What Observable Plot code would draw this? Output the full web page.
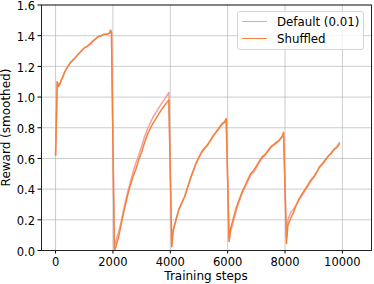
<!DOCTYPE html>
<html>
<head>
<meta charset="utf-8">
<script src="https://cdn.jsdelivr.net/npm/d3@7"></script>
<script src="https://cdn.jsdelivr.net/npm/@observablehq/plot@0.6"></script>
<style>
  html, body { margin: 0; padding: 0; background: #fff; }
  #wrap { position: relative; width: 374px; height: 284px; font-family: "DejaVu Sans", sans-serif; }
  #legend { position: absolute; left: 237px; top: 10.5px; width: 127px; height: 39px;
    border: 1px solid #d6d6d6; border-radius: 3px; background: rgba(255,255,255,0.8);
    font-size: 11.8px; color: #000; box-sizing: border-box; }
  .row { position: absolute; left: 4px; height: 14px; display: flex; align-items: center; }
  .sw { width: 25px; height: 0; margin-right: 10px; }
</style>
</head>
<body>
<div id="wrap"></div>
<script>
const seriesNames = ["Default (0.01)", "Shuffled"];
const seriesColors = ["#f5a0a2", "#f5823a"];

const steps = [
  0, 60, 100, 150, 200, 250, 300, 350, 400, 450, 500, 600, 700, 800, 900, 1000,
  1100, 1200, 1300, 1400, 1500, 1600, 1700, 1800, 1880, 1920, 1950,
  2050, 2100, 2200, 2300, 2400, 2500, 2600, 2700, 2800, 2900, 3000, 3100, 3200,
  3300, 3400, 3500, 3600, 3700, 3800, 3900, 3950,
  4050, 4100, 4200, 4300, 4400, 4500, 4600, 4700, 4800, 4900, 5000, 5100, 5200,
  5300, 5400, 5500, 5600, 5700, 5800, 5900, 5950,
  6050, 6100, 6200, 6300, 6400, 6500, 6600, 6700, 6800, 6900, 7000, 7100, 7200,
  7300, 7400, 7500, 7600, 7700, 7800, 7900, 7950,
  8050, 8100, 8200, 8300, 8400, 8500, 8600, 8700, 8800, 8900, 9000, 9100, 9200,
  9300, 9400, 9500, 9600, 9700, 9800, 9900
];

const shuffled = [
  0.62, 1.10, 1.07, 1.085, 1.11, 1.13, 1.155, 1.175, 1.19, 1.205, 1.22, 1.24, 1.26, 1.28, 1.30, 1.32,
  1.33, 1.345, 1.365, 1.38, 1.395, 1.40, 1.41, 1.41, 1.415, 1.435, 1.42,
  0.0, 0.02, 0.09, 0.18, 0.27, 0.35, 0.42, 0.48, 0.53, 0.59, 0.64, 0.70, 0.755,
  0.795, 0.83, 0.86, 0.89, 0.92, 0.945, 0.97, 0.98,
  0.025, 0.13, 0.20, 0.27, 0.31, 0.35, 0.41, 0.47, 0.52, 0.57, 0.61, 0.645, 0.67,
  0.69, 0.72, 0.75, 0.775, 0.80, 0.825, 0.84, 0.86,
  0.06, 0.14, 0.21, 0.28, 0.33, 0.38, 0.42, 0.46, 0.50, 0.52, 0.55, 0.58, 0.61,
  0.625, 0.65, 0.675, 0.69, 0.705, 0.72, 0.745, 0.77,
  0.045, 0.165, 0.21, 0.25, 0.30, 0.34, 0.37, 0.40, 0.43, 0.46, 0.48, 0.51, 0.545,
  0.565, 0.59, 0.615, 0.63, 0.655, 0.67, 0.695
];

const defaultRun = [
  0.62, 1.10, 1.07, 1.085, 1.11, 1.13, 1.155, 1.175, 1.19, 1.205, 1.22, 1.24, 1.26, 1.28, 1.30, 1.32,
  1.33, 1.345, 1.365, 1.38, 1.395, 1.40, 1.41, 1.41, 1.415, 1.435, 1.42,
  0.02, 0.06, 0.12, 0.20, 0.29, 0.37, 0.44, 0.51, 0.57, 0.62, 0.68, 0.74, 0.79,
  0.83, 0.87, 0.90, 0.93, 0.96, 0.985, 1.015, 1.03,
  0.03, 0.13, 0.20, 0.265, 0.31, 0.35, 0.405, 0.465, 0.515, 0.565, 0.605, 0.64, 0.665,
  0.685, 0.715, 0.745, 0.77, 0.795, 0.82, 0.835, 0.855,
  0.06, 0.12, 0.19, 0.26, 0.32, 0.37, 0.41, 0.45, 0.49, 0.51, 0.54, 0.575, 0.60,
  0.62, 0.645, 0.67, 0.685, 0.70, 0.715, 0.74, 0.765,
  0.08, 0.20, 0.25, 0.27, 0.30, 0.335, 0.36, 0.39, 0.42, 0.45, 0.475, 0.505, 0.54,
  0.56, 0.585, 0.61, 0.635, 0.66, 0.675, 0.705
];

const xTicks = [0, 2000, 4000, 6000, 8000, 10000];
const yTicks = [0, 0.2, 0.4, 0.6, 0.8, 1.0, 1.2, 1.4, 1.6];

const rows = [];
steps.forEach((s, i) => {
  rows.push({step: s, value: defaultRun[i], series: seriesNames[0]});
  rows.push({step: s, value: shuffled[i], series: seriesNames[1]});
});

const chart = Plot.plot({
  width: 374,
  height: 284,
  marginLeft: 41,
  marginRight: 3,
  marginTop: 4.5,
  marginBottom: 34,
  style: {fontFamily: "DejaVu Sans", fontSize: "11.5px", background: "white", color: "#000"},
  x: {domain: [-490, 11015], label: null},
  y: {domain: [0, 1.6], label: null},
  color: {domain: seriesNames, range: seriesColors},
  marks: [
    Plot.gridX(xTicks, {stroke: "#b0b0b0", strokeOpacity: 0.65, strokeWidth: 1}),
    Plot.gridY(yTicks, {stroke: "#b0b0b0", strokeOpacity: 0.65, strokeWidth: 1}),
    Plot.lineY(rows.filter(d => d.series === seriesNames[0]), {x: "step", y: "value", stroke: "series", strokeWidth: 1.5}),
    Plot.lineY(rows.filter(d => d.series === seriesNames[1]), {x: "step", y: "value", stroke: "series", strokeWidth: 1.5}),
    Plot.axisX(xTicks, {tickSize: 3.5, tickPadding: 4, tickFormat: d3.format("d"), label: null, stroke: "#000"}),
    Plot.axisY(yTicks, {tickSize: 3.5, tickFormat: () => "", label: null, stroke: "#000"}),
    Plot.axisY(yTicks, {tickSize: 0, tickPadding: 6.5, dy: 1.5, tickFormat: d3.format(".1f"), label: null}),
    Plot.frame({stroke: "#222", strokeWidth: 1})
  ]
});

const wrap = document.getElementById("wrap");
wrap.appendChild(chart);

const svg = d3.select(chart);
svg.append("text")
  .attr("x", 206).attr("y", 280)
  .attr("text-anchor", "middle")
  .attr("font-size", 12)
  .attr("fill", "#000")
  .text("Training steps");
svg.append("text")
  .attr("transform", "translate(9.5,127.5) rotate(-90)")
  .attr("text-anchor", "middle")
  .attr("font-size", 12)
  .attr("fill", "#000")
  .text("Reward (smoothed)");

const legend = document.createElement("div");
legend.id = "legend";
seriesNames.forEach((name, i) => {
  const row = document.createElement("div");
  row.className = "row";
  row.style.top = (3 + i * 17) + "px";
  const sw = document.createElement("span");
  sw.className = "sw";
  sw.style.borderTop = "1.5px solid " + seriesColors[i];
  const t = document.createElement("span");
  t.textContent = name;
  row.appendChild(sw);
  row.appendChild(t);
  legend.appendChild(row);
});
wrap.appendChild(legend);
</script>
</body>
</html>
